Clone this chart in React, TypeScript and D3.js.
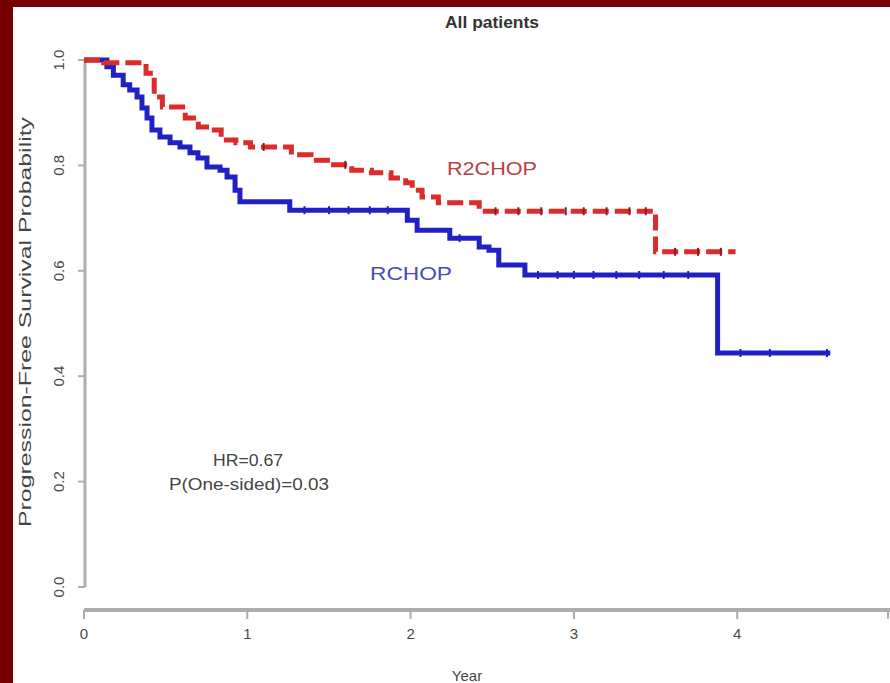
import React from "react";
import * as d3 from "d3";

// Kaplan–Meier step data: time of each drop (years) and survival after it
const rchopTimes = [0, 0.14, 0.18, 0.24, 0.28, 0.325, 0.355, 0.386, 0.416, 0.465, 0.527, 0.588, 0.649, 0.698, 0.753, 0.833, 0.876, 0.925, 0.955, 1.26, 1.98, 2.04, 2.24, 2.42, 2.48, 2.54, 2.7, 3.88];
const rchopSurv = [1.0, 0.987, 0.971, 0.953, 0.943, 0.93, 0.909, 0.89, 0.867, 0.854, 0.843, 0.835, 0.824, 0.814, 0.797, 0.791, 0.778, 0.753, 0.731, 0.715, 0.696, 0.677, 0.662, 0.645, 0.639, 0.611, 0.592, 0.444];
const rchopEnd = 4.57;
const rchopCensor = [1.35, 1.5, 1.62, 1.75, 1.86, 2.3, 2.78, 2.9, 3.0, 3.12, 3.26, 3.4, 3.55, 3.7, 4.02, 4.2, 4.55];

const r2chopTimes = [0, 0.12, 0.38, 0.43, 0.48, 0.62, 0.7, 0.78, 0.84, 0.93, 1.02, 1.27, 1.39, 1.51, 1.64, 1.76, 1.88, 1.97, 2.01, 2.07, 2.17, 2.42, 3.5];
const r2chopSurv = [1.0, 0.995, 0.975, 0.93, 0.911, 0.89, 0.873, 0.867, 0.848, 0.843, 0.835, 0.82, 0.81, 0.801, 0.791, 0.786, 0.776, 0.767, 0.753, 0.74, 0.729, 0.713, 0.636];
const r2chopEnd = 3.99;
const r2chopCensor = [1.1, 1.6, 2.52, 2.66, 2.8, 2.95, 3.06, 3.2, 3.34, 3.44, 3.62, 3.76, 3.9];

const xTicks = [0, 1, 2, 3, 4];
const yTicks = [0, 0.2, 0.4, 0.6, 0.8, 1.0];

const W = 890;
const H = 683;

type Pt = [number, number];

function stepPoints(times: number[], surv: number[], end: number): Pt[] {
  const pts: Pt[] = times.map((t, i) => [t, surv[i]] as Pt);
  pts.push([end, surv[surv.length - 1]]);
  return pts;
}

function survAt(times: number[], surv: number[], t: number): number {
  let v = surv[0];
  for (let i = 0; i < times.length; i++) if (times[i] <= t) v = surv[i];
  return v;
}

export default function App() {
  const x = d3.scaleLinear().domain([0, 5]).range([84, 900.5]);
  const y = d3.scaleLinear().domain([0, 1]).range([587, 60]);

  const line = d3
    .line<Pt>()
    .x((d) => x(d[0]))
    .y((d) => y(d[1]))
    .curve(d3.curveStepAfter);

  const blue = "#2020c4";
  const red = "#dd2a2a";
  const axisGrey = "#adadad";
  const textGrey = "#4a4a4a";
  const font = "Liberation Sans, Arial, sans-serif";

  return (
    <div style={{ position: "absolute", left: 0, top: 0 }}>
      <svg width={W} height={H} style={{ display: "block" }}>
        <rect x={0} y={0} width={W} height={H} fill="#ffffff" />
        {/* slide frame */}
        <rect x={0} y={0} width={W} height={7} fill="#780000" />
        <rect x={0} y={0} width={13} height={H} fill="#740000" />

        <text
          x={492}
          y={28}
          textAnchor="middle"
          fontFamily={font}
          fontSize={16}
          fontWeight="bold"
          fill="#333"
          textLength={94}
          lengthAdjust="spacingAndGlyphs"
        >
          All patients
        </text>

        {/* y axis */}
        <line x1={85} x2={85} y1={y(1)} y2={y(0)} stroke={axisGrey} strokeWidth={3} />
        {yTicks.map((v) => (
          <g key={v}>
            <line x1={78} x2={85} y1={y(v)} y2={y(v)} stroke={axisGrey} strokeWidth={2} />
            <text
              transform={`translate(64,${y(v)}) rotate(-90)`}
              textAnchor="middle"
              fontFamily={font}
              fontSize={15}
              fill={textGrey}
            >
              {v.toFixed(1)}
            </text>
          </g>
        ))}
        <text
          transform={`translate(31,${322}) rotate(-90)`}
          textAnchor="middle"
          fontFamily={font}
          fontSize={17}
          fill="#444"
          textLength={410}
          lengthAdjust="spacingAndGlyphs"
        >
          Progression-Free Survival Probability
        </text>

        {/* x axis */}
        <line x1={x(0)} x2={W} y1={610} y2={610} stroke={axisGrey} strokeWidth={4} />
        {xTicks.map((v) => (
          <g key={v}>
            <line x1={x(v)} x2={x(v)} y1={610} y2={619} stroke={axisGrey} strokeWidth={2} />
            <text x={x(v)} y={639} textAnchor="middle" fontFamily={font} fontSize={15} fill={textGrey}>
              {v}
            </text>
          </g>
        ))}
        <line x1={888} x2={888} y1={610} y2={619} stroke={axisGrey} strokeWidth={2} />
        <text x={467} y={681} textAnchor="middle" fontFamily={font} fontSize={15} fill="#444">
          Year
        </text>

        {/* survival curves */}
        <path
          d={line(stepPoints(rchopTimes, rchopSurv, rchopEnd)) || ""}
          fill="none"
          stroke={blue}
          strokeWidth={5}
        />
        {rchopCensor.map((t, i) => (
          <line
            key={`b${i}`}
            x1={x(t)}
            x2={x(t)}
            y1={y(survAt(rchopTimes, rchopSurv, t)) - 4}
            y2={y(survAt(rchopTimes, rchopSurv, t)) + 4}
            stroke={blue}
            strokeWidth={2}
          />
        ))}
        <path
          d={line(stepPoints(r2chopTimes, r2chopSurv, r2chopEnd)) || ""}
          fill="none"
          stroke={red}
          strokeWidth={5}
          strokeDasharray="16 6"
        />
        {r2chopCensor.map((t, i) => (
          <line
            key={`r${i}`}
            x1={x(t)}
            x2={x(t)}
            y1={y(survAt(r2chopTimes, r2chopSurv, t)) - 4}
            y2={y(survAt(r2chopTimes, r2chopSurv, t)) + 4}
            stroke="#8a1f1f"
            strokeWidth={2}
          />
        ))}

        <text
          x={492}
          y={175}
          textAnchor="middle"
          fontFamily={font}
          fontSize={18}
          fill="#b84040"
          textLength={90}
          lengthAdjust="spacingAndGlyphs"
        >
          R2CHOP
        </text>
        <text
          x={411}
          y={280}
          textAnchor="middle"
          fontFamily={font}
          fontSize={18}
          fill="#4a4ab8"
          textLength={82}
          lengthAdjust="spacingAndGlyphs"
        >
          RCHOP
        </text>

        <text
          x={248}
          y={466}
          textAnchor="middle"
          fontFamily={font}
          fontSize={16}
          fill="#444"
          textLength={70}
          lengthAdjust="spacingAndGlyphs"
        >
          HR=0.67
        </text>
        <text
          x={249}
          y={490}
          textAnchor="middle"
          fontFamily={font}
          fontSize={16}
          fill="#444"
          textLength={160}
          lengthAdjust="spacingAndGlyphs"
        >
          P(One-sided)=0.03
        </text>
      </svg>
    </div>
  );
}
